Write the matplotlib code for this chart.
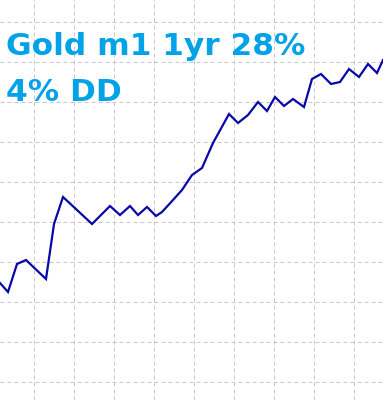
import numpy as np
import matplotlib
matplotlib.use("Agg")
import matplotlib.pyplot as plt

# equity curve (bar index vs equity level)
bars = [0, 8, 17, 26, 46, 54, 63, 77, 92, 110, 120, 130, 138, 147, 156, 162,
        173, 182, 192, 202, 213, 229, 238, 248, 258, 267, 275, 284, 293, 304,
        312, 321, 331, 340, 349, 359, 368, 377, 383]
equity = [117, 108, 136, 140, 121, 176, 203, 190, 176, 194, 185, 194, 185, 193,
          184, 188, 200, 210, 225, 232, 257, 286, 277, 285, 298, 289, 303, 294,
          301, 293, 321, 326, 316, 318, 331, 323, 336, 327, 340]

title_lines = ["Gold m1 1yr 28%", "4% DD"]

fig = plt.figure(figsize=(3.83, 4.0), dpi=100)
ax = fig.add_axes([0, 0, 1, 1])
ax.set_xlim(0, 383)
ax.set_ylim(0, 400)

ax.set_xticks(np.arange(33.5, 383, 40))
ax.set_yticks(np.arange(18.5, 400, 40))
ax.grid(True, color="#c8c8c8", linestyle=(0, (4, 3)), linewidth=0.72)
ax.tick_params(length=0, labelbottom=False, labelleft=False)
for s in ax.spines.values():
    s.set_visible(False)

ax.plot(bars, equity, color="#0808a8", linewidth=1.6, solid_joinstyle="miter")

ax.text(6, 345, title_lines[0], color="#00a2e8", fontsize=22.5, fontweight="bold",
        family="DejaVu Sans", va="baseline")
ax.text(6, 299, title_lines[1], color="#00a2e8", fontsize=22.5, fontweight="bold",
        family="DejaVu Sans", va="baseline")

fig.savefig("out.png", dpi=100)
